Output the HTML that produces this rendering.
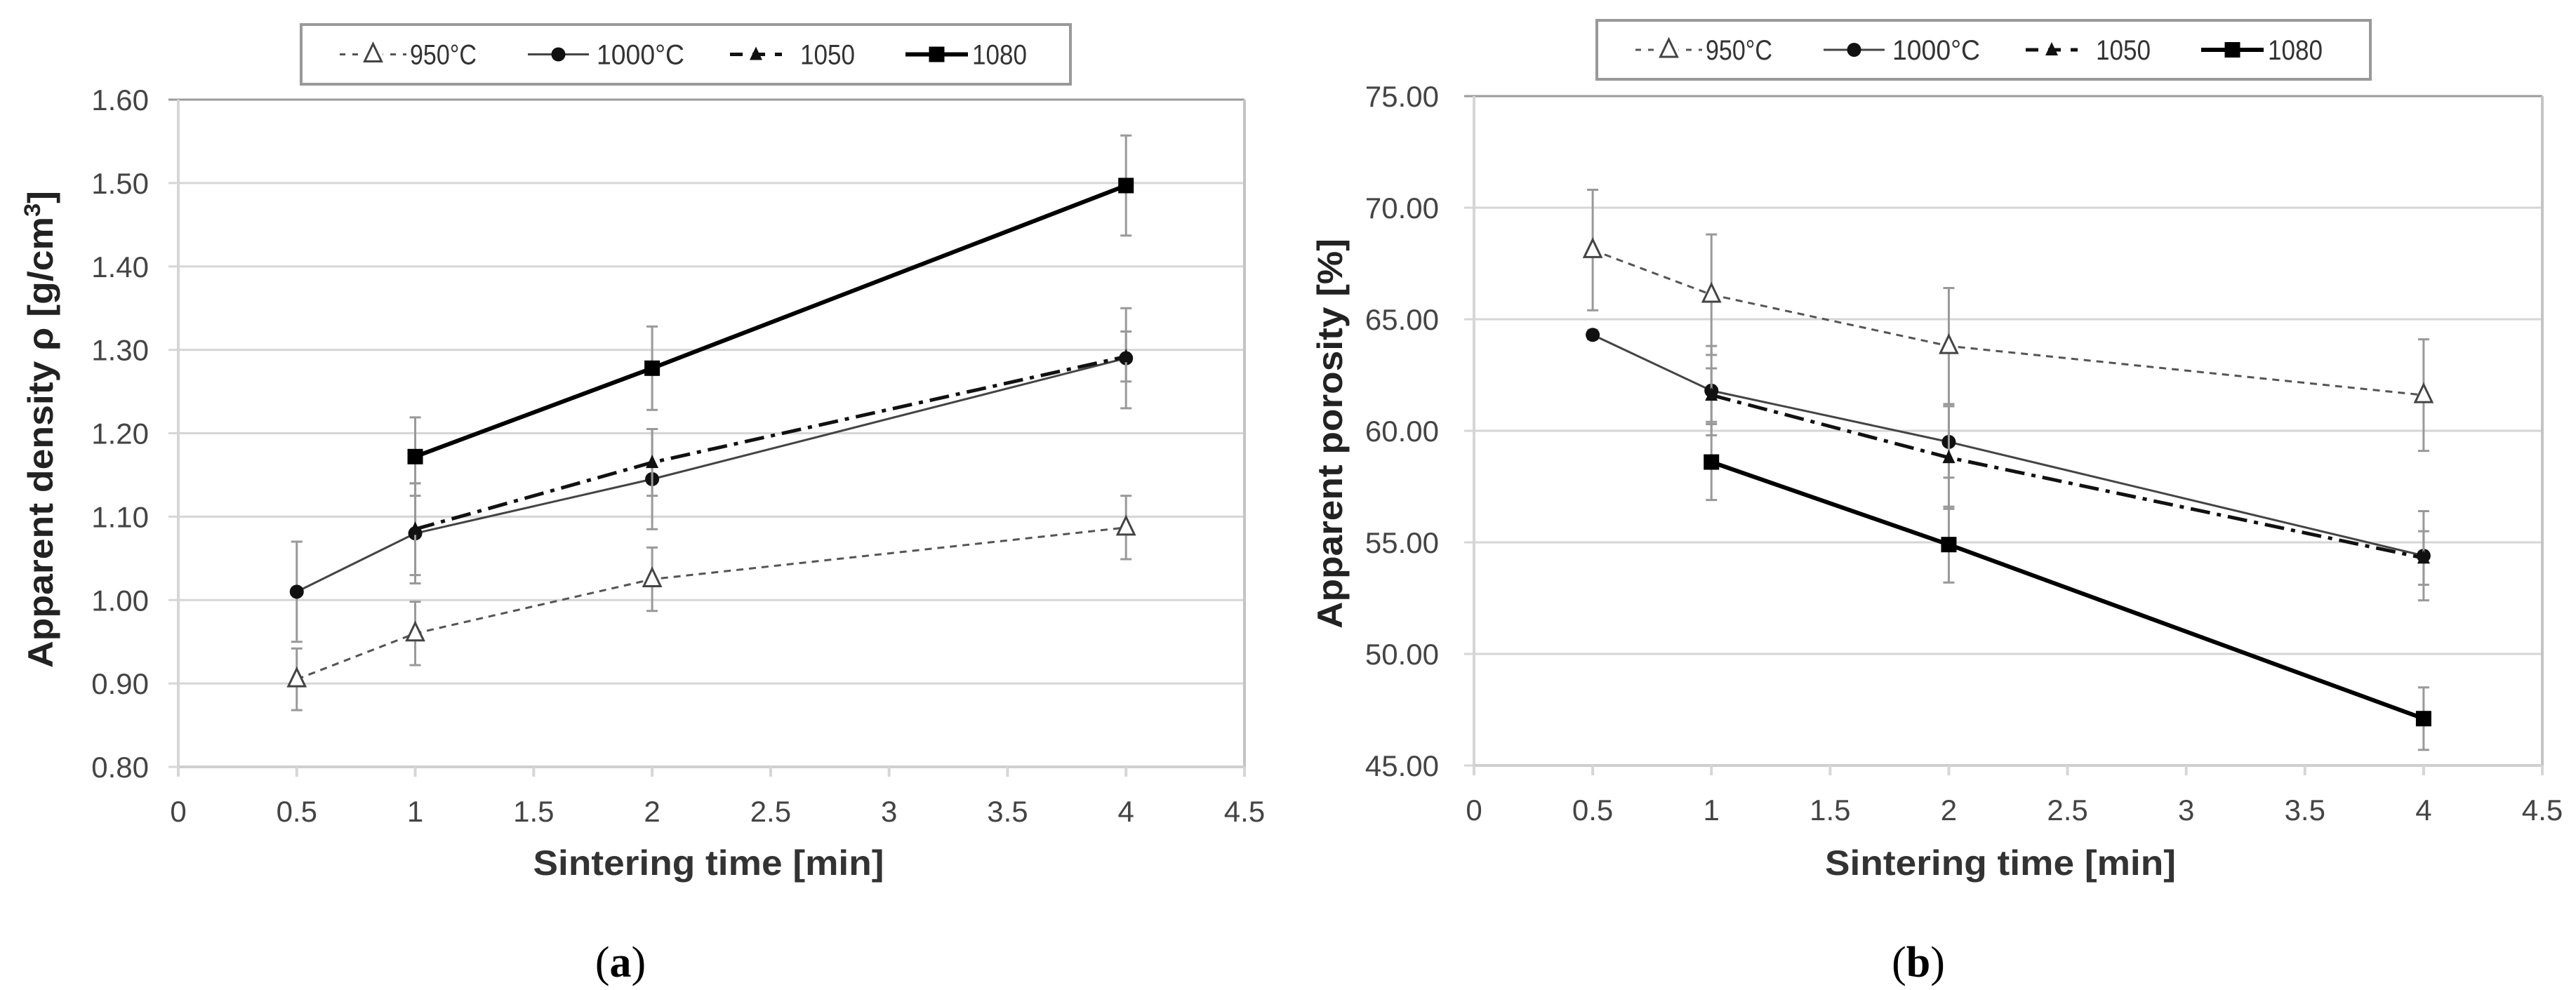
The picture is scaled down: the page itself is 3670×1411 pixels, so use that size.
<!DOCTYPE html>
<html><head><meta charset="utf-8"><style>
html,body{margin:0;padding:0;background:#fff;}
svg{display:block;}
text{font-family:"Liberation Sans",sans-serif;}
</style></head><body>
<svg id="fig" width="3670" height="1411" viewBox="0 0 3670 1411" xmlns="http://www.w3.org/2000/svg"></svg>
<script>
// ---- data ----
const xTicks = [0,0.5,1,1.5,2,2.5,3,3.5,4,4.5];
const xTickLabels = ["0","0.5","1","1.5","2","2.5","3","3.5","4","4.5"];
const densYTicks = [0.8,0.9,1.0,1.1,1.2,1.3,1.4,1.5,1.6];
const densYLabels = ["0.80","0.90","1.00","1.10","1.20","1.30","1.40","1.50","1.60"];
const poroYTicks = [45,50,55,60,65,70,75];
const poroYLabels = ["45.00","50.00","55.00","60.00","65.00","70.00","75.00"];
const seriesNames = ["950°C","1000°C","1050","1080"];
const t950 = [0.5,1,2,4];
const t1000 = [0.5,1,2,4];
const t1050 = [1,2,4];
const t1080 = [1,2,4];
const dens950 = [0.905,0.96,1.025,1.087];
const dens950Err = [0.037,0.038,0.038,0.038];
const dens1000 = [1.01,1.08,1.145,1.29];
const dens1000Err = [0.06,0.06,0.06,0.06];
const dens1050 = [1.085,1.165,1.292];
const dens1050Err = [0.055,0.04,0.03];
const dens1080 = [1.172,1.278,1.497];
const dens1080Err = [0.047,0.05,0.06];
const poro950 = [68.1,66.1,63.8,61.6];
const poro950Err = [2.7,2.7,2.6,2.5];
const poro1000 = [64.3,61.8,59.5,54.4];
const poro1000Err = [0.2,2.0,1.6,2.0];
const poro1050 = [61.6,58.8,54.3];
const poro1050Err = [1.2,2.3,1.2];
const poro1080 = [58.6,54.9,47.1];
const poro1080Err = [1.7,1.7,1.4];

const NS="http://www.w3.org/2000/svg";
const svg=document.getElementById('fig');
function mk(tag,attrs,parent){const e=document.createElementNS(NS,tag);for(const k in attrs)e.setAttribute(k,attrs[k]);(parent||svg).appendChild(e);return e;}

const styles=[
 {stroke:"#555",w:3,dash:"10 8",marker:"otri"},
 {stroke:"#444",w:3,dash:"",marker:"circle"},
 {stroke:"#111",w:5,dash:"28 10 6 10",marker:"ftri"},
 {stroke:"#000",w:6,dash:"",marker:"square"}
];

function marker(g,type,x,y){
  let m;
  if(type==="otri") m=mk('polygon',{points:`${x},${y-15} ${x-12},${y+10} ${x+12},${y+10}`,fill:"#fff",stroke:"#444","stroke-width":3},g);
  else if(type==="circle") m=mk('circle',{cx:x,cy:y,r:10,fill:"#111"},g);
  else if(type==="ftri") m=mk('polygon',{points:`${x},${y-11} ${x-9},${y+8} ${x+9},${y+8}`,fill:"#111"},g);
  else m=mk('rect',{x:x-11,y:y-11,width:22,height:22,fill:"#000"},g);
  
  
}

function chart(cfg){
  const g=mk('g',{});
  
  
  const X=v=>cfg.x0+(v-0)/4.5*(cfg.x1-cfg.x0);
  const Y=v=>cfg.yb+(v-cfg.ymin)/(cfg.ymax-cfg.ymin)*(cfg.yt-cfg.yb);
  // grid
  cfg.yTicks.forEach((v,i)=>{
    const l=mk('line',{x1:cfg.x0-14,x2:cfg.x1,y1:Y(v),y2:Y(v),stroke:i===cfg.yTicks.length-1?"#9a9a9a":"#d6d6d6","stroke-width":3},g);
    
    
    const t=mk('text',{x:cfg.labelRight,y:Y(v)+15,"text-anchor":"end","font-size":42,fill:"#444"},g);
    t.textContent=cfg.yLabels[i];
    
    
  });
  mk('line',{x1:cfg.x0,x2:cfg.x0,y1:cfg.yt,y2:cfg.yb+14,stroke:"#d6d6d6","stroke-width":4},g);
  mk('line',{x1:cfg.x1,x2:cfg.x1,y1:cfg.yt,y2:cfg.yb+14,stroke:"#c4c4c4","stroke-width":4},g);
  mk('line',{x1:cfg.x0,x2:cfg.x1,y1:cfg.yb,y2:cfg.yb,stroke:"#cfcfcf","stroke-width":4},g);
  xTicks.forEach((v,i)=>{
    mk('line',{x1:X(v),x2:X(v),y1:cfg.yb,y2:cfg.yb+14,stroke:"#d6d6d6","stroke-width":4},g);
    const t=mk('text',{x:X(v),y:cfg.yb+78,"text-anchor":"middle","font-size":42,fill:"#444"},g);
    t.textContent=xTickLabels[i];
    
    
  });
  // series
  cfg.series.forEach((s,si)=>{
    const st=styles[si];
    const sg=mk('g',{},g);
    
    
    s.t.forEach((tv,i)=>{
      const x=X(tv),ya=Y(s.v[i]+s.e[i]),yb=Y(s.v[i]-s.e[i]);
      mk('line',{x1:x,x2:x,y1:ya,y2:yb,stroke:"#999","stroke-width":3},sg);
      mk('line',{x1:x-8,x2:x+8,y1:ya,y2:ya,stroke:"#999","stroke-width":3},sg);
      mk('line',{x1:x-8,x2:x+8,y1:yb,y2:yb,stroke:"#999","stroke-width":3},sg);
    });
    let pts=s.t.map((tv,i)=>{return X(tv)+","+Y(s.v[i]);});
    const pl=mk('polyline',{points:pts.join(" "),fill:"none",stroke:st.stroke,"stroke-width":st.w,"stroke-dasharray":st.dash},sg);
    
    
    s.t.forEach((tv,i)=>marker(sg,st.marker,X(tv),Y(s.v[i])));
  });
  // legend
  const lg=mk('g',{},g);
  
  
  mk('rect',{x:cfg.leg[0],y:cfg.leg[1],width:cfg.leg[2],height:cfg.leg[3],fill:"#fff",stroke:"#999","stroke-width":4},lg);
  const lx=cfg.leg[0], ly=cfg.leg[1]+cfg.leg[3]/2;
  const offs=[[55,150,155],[323,410,421],[611,685,711],[861,950,956]];
  offs.forEach((o,i)=>{
    const st=styles[i];
    const e=mk('g',{},lg);
    
    
    mk('line',{x1:lx+o[0],x2:lx+o[1],y1:ly,y2:ly,stroke:st.stroke,"stroke-width":st.w,"stroke-dasharray":i===0?"8 10":(i===2?"18 14":"")},e);
    if(i===0) mk('rect',{x:lx+(o[0]+o[1])/2-14,y:ly-16,width:28,height:32,fill:"#fff"},e);
    marker(e,st.marker,lx+(o[0]+o[1])/2,ly);
    const t=mk('text',{x:lx+o[2],y:ly+14,"font-size":40,fill:"#333",textLength:i<2?(i===0?95:125):78,lengthAdjust:"spacingAndGlyphs"},e);
    t.textContent=seriesNames[i];
  });
  // titles
  const xt=mk('text',{x:(cfg.x0+cfg.x1)/2+ (cfg.xtOff||0),y:1247,"text-anchor":"middle","font-size":50,"font-weight":"bold",fill:"#333",textLength:500,lengthAdjust:"spacingAndGlyphs"},g);
  xt.textContent="Sintering time [min]";
  
  
  const yt=mk('text',{x:0,y:0,"text-anchor":"middle","font-size":50,"font-weight":"bold",fill:"#222",textLength:cfg.ytLen,lengthAdjust:"spacingAndGlyphs",transform:`translate(${cfg.ytX},${cfg.ytY}) rotate(-90)`},g);
  yt.innerHTML=cfg.ytitle;
  
  
  const cap=mk('text',{x:cfg.capX,y:1392,"text-anchor":"middle","font-size":62,fill:"#000"},g);
  cap.setAttribute('style','font-family:"Liberation Serif",serif');
  cap.innerHTML=cfg.cap;
  
  
}

chart({name:"density-chart",x0:254,x1:1773,yt:142,yb:1093,ymin:0.8,ymax:1.6,yTicks:densYTicks,yLabels:densYLabels,labelRight:212,
  series:[{t:t950,v:dens950,e:dens950Err},{t:t1000,v:dens1000,e:dens1000Err},{t:t1050,v:dens1050,e:dens1050Err},{t:t1080,v:dens1080,e:dens1080Err}],
  leg:[429,35,1096,85],ytitle:'Apparent density ρ [g/cm<tspan font-size="32" dy="-18">3</tspan><tspan dy="18">]</tspan>',ytLen:680,ytX:75,ytY:612,capX:884,
  cap:'(<tspan font-weight="bold">a</tspan>)',xtOff:-4});
chart({name:"porosity-chart",x0:2100,x1:3622,yt:137,yb:1091,ymin:45,ymax:75,yTicks:poroYTicks,yLabels:poroYLabels,labelRight:2050,
  series:[{t:t950,v:poro950,e:poro950Err},{t:t1000,v:poro1000,e:poro1000Err},{t:t1050,v:poro1050,e:poro1050Err},{t:t1080,v:poro1080,e:poro1080Err}],
  leg:[2275,29,1102,84],ytitle:'Apparent porosity [%]',ytLen:556,ytX:1912,ytY:618,capX:2733,
  cap:'(<tspan font-weight="bold">b</tspan>)',xtOff:-11});
</script>
</body></html>
